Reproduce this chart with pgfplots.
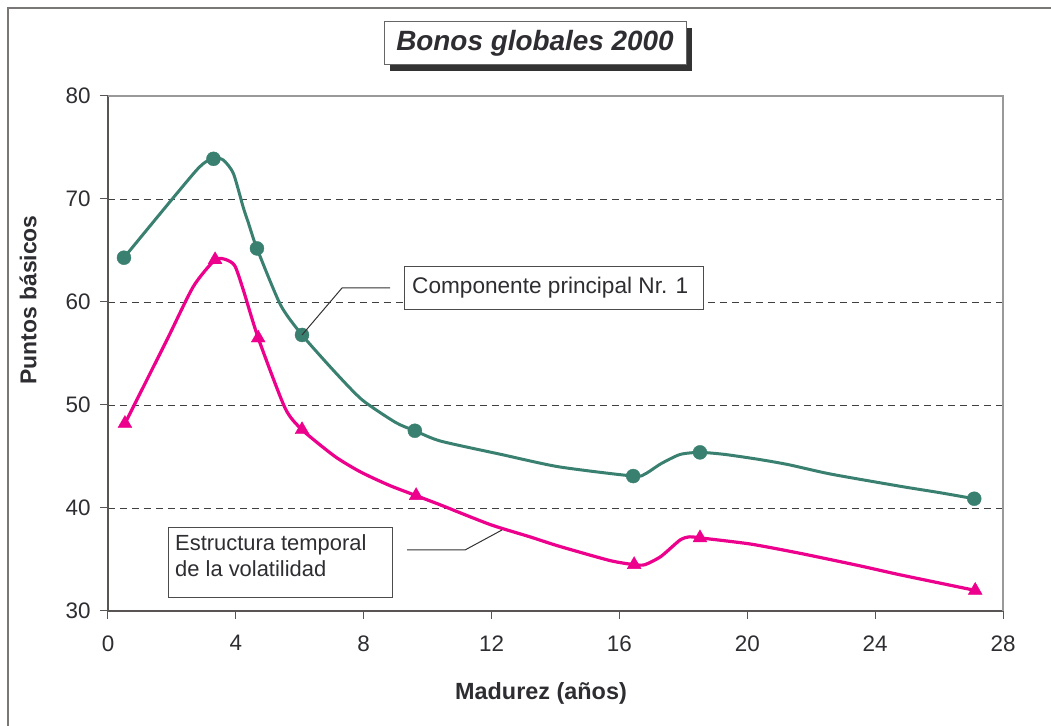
\documentclass[border=0pt]{standalone}
\usepackage{pgfplots}
\pgfplotsset{compat=1.18}
\usepackage{fontspec}
\setmainfont{Liberation Sans}
\definecolor{tealc}{RGB}{58,128,112}
\definecolor{magc}{RGB}{236,0,140}
\definecolor{txt}{RGB}{45,45,50}
\definecolor{ax}{RGB}{90,85,85}

\pgfplotstableread{
x y
0.5 64.3
2.77 72.8
3.3 73.9
3.6 73.8
3.92 72.5
4.23 69.2
4.39 67.7
4.66 65.2
5.4 59.7
6.07 56.8
7.1 53.2
7.95 50.5
9.0 48.3
9.6 47.5
10.4 46.5
12.3 45.2
14.1 44.0
16.43 43.1
16.8 43.3
17.3 44.3
17.9 45.2
18.52 45.4
19.3 45.2
20.4 44.7
21.3 44.2
22.6 43.3
24.8 42.1
26.0 41.5
27.1 40.9
}\greencurve
\pgfplotstableread{
x y
0.5 64.3
3.3 73.9
4.66 65.2
6.07 56.8
9.6 47.5
16.43 43.1
18.52 45.4
27.1 40.9
}\greenpts
\pgfplotstableread{
x y
0.53 48.2
1.84 56.3
2.67 61.5
3.35 64.1
3.7 64.1
3.97 63.5
4.23 61.2
4.7 56.5
5.54 49.7
6.07 47.6
7.1 45.0
7.9 43.5
8.8 42.2
9.64 41.2
10.4 40.3
11.95 38.4
13.2 37.2
14.1 36.3
15.7 34.9
16.46 34.5
16.8 34.5
17.3 35.3
17.9 36.9
18.2 37.2
18.52 37.1
20.1 36.5
21.65 35.6
23.5 34.4
24.8 33.5
27.13 32.0
}\pinkcurve
\pgfplotstableread{
x y
0.53 48.2
3.35 64.1
4.7 56.5
6.07 47.6
9.64 41.2
16.46 34.5
18.52 37.1
27.13 32.0
}\pinkpts

\begin{document}
\begin{tikzpicture}[x=1bp,y=1bp]
\useasboundingbox (-108,-115) rectangle (943,611);
\draw[ax!80,line width=2bp] (-100,-120) -- (-100,603) -- (950,603);
\begin{axis}[
  at={(0,0)}, anchor=south west,
  scale only axis, width=895bp, height=515bp,
  xmin=0, xmax=28, ymin=30, ymax=80,
  xtick={0,4,...,28}, ytick={30,40,...,80},
  axis x line*=bottom, axis y line*=left,
  axis line style={draw=ax, line width=1.2bp, -},
  tick align=outside, major tick length=8bp,
  tick style={draw=ax, line width=1bp},
  ymajorgrids, grid style={black!75, dash pattern=on 7bp off 5bp, line width=0.8bp},
  ticklabel style={font=\fontsize{22.5}{25}\selectfont, text=txt},
  xticklabel style={yshift=-13bp},
  yticklabel style={xshift=-6bp},
  /pgf/number format/assume math mode=true,
  clip=false,
]
\draw[black!40, line width=1.2bp] (axis cs:0,80) -- (axis cs:28,80) -- (axis cs:28,30);
\addplot[tealc, line width=3bp, smooth, tension=0.4, no markers] table {\greencurve};
\addplot[only marks, mark=*, mark size=7bp, tealc, mark options={fill=tealc, draw=tealc}] table {\greenpts};
\addplot[magc, line width=3.2bp, smooth, tension=0.4, no markers] table {\pinkcurve};
\addplot[only marks, mark=triangle*, mark size=8bp, magc, mark options={fill=magc, draw=magc}] table {\pinkpts};
\end{axis}
% title
\fill[black!80] (282,540) rectangle (584,583);
\draw[black!60, line width=1bp, fill=white] (276,546) rectangle (578,589);
\node[font=\fontsize{28}{31}\selectfont\bfseries\itshape, text=txt] at (427,567.5) {Bonos globales 2000};
% annotation 1
\draw[black!70, line width=1bp, fill=white] (296,301) rectangle (595,344);
\node[anchor=west, font=\fontsize{22.7}{26}\selectfont, text=txt, inner sep=0pt] at (304,323.5) {Componente principal Nr. 1};
\draw[black!80, line width=1bp] (194,276) -- (234,323) -- (282,323);
% annotation 2
\draw[black!70, line width=1bp, fill=white] (60,13) rectangle (284,83);
\node[anchor=north west, align=left, font=\fontsize{22}{27}\selectfont, text=txt, inner sep=0pt] at (67,77) {Estructura temporal\\de la volatilidad};
\draw[black!80, line width=1bp] (299,61) -- (357,61) -- (394,81);
% axis labels
\node[font=\fontsize{23.5}{26}\selectfont\bfseries, text=txt] at (433,-82) {Madurez (años)};
\node[rotate=90, font=\fontsize{23}{26}\selectfont\bfseries, text=txt] at (-80,311) {Puntos básicos};
\end{tikzpicture}
\end{document}
